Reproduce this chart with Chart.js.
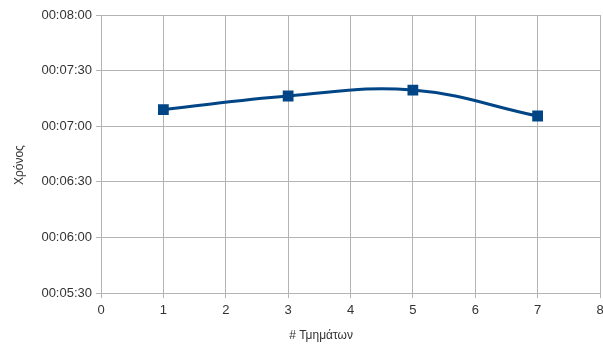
<!DOCTYPE html>
<html>
<head>
<meta charset="utf-8">
<script src="https://cdn.jsdelivr.net/npm/chart.js@4/dist/chart.umd.min.js"></script>
<style>
  html, body { margin: 0; padding: 0; background: #fff; }
  #wrap { width: 603px; height: 347px; }
</style>
</head>
<body>
<div id="wrap"><canvas id="c" width="603" height="347"></canvas></div>
<script>
/* Χρόνος vs # Τμημάτων — values in seconds */
const sections = [1, 3, 5, 7];
const seconds = [429, 436.3, 439.5, 425.5];
const yTicks = [330, 360, 390, 420, 450, 480];
const xTicks = [0, 1, 2, 3, 4, 5, 6, 7, 8];
const xTitle = "# Τμημάτων";
const yTitle = "Χρόνος";

const fmt = (s) => {
  const m = Math.floor(s / 60), r = Math.round(s % 60);
  return "00:" + String(m).padStart(2, "0") + ":" + String(r).padStart(2, "0");
};

Chart.defaults.font.family = "'Liberation Sans', Arial, sans-serif";
Chart.defaults.font.size = 13;
Chart.defaults.color = "#333";

// axis titles sit off-centre in the original (LibreOffice-style), so draw them by hand
const axisTitles = {
  id: "axisTitles",
  afterDraw(chart) {
    const { ctx, chartArea: a } = chart;
    ctx.save();
    ctx.fillStyle = "#333";
    ctx.font = "12px 'Liberation Sans', Arial, sans-serif";
    ctx.textAlign = "center";
    ctx.textBaseline = "middle";
    ctx.fillText(xTitle, a.left + (a.right - a.left) * 0.441, a.bottom + 43);
    ctx.translate(20, a.top + (a.bottom - a.top) * 0.54);
    ctx.rotate(-Math.PI / 2);
    ctx.fillText(yTitle, 0, 0);
    ctx.restore();
  },
};

new Chart(document.getElementById("c"), {
  type: "line",
  data: {
    datasets: [{
      data: sections.map((x, i) => ({ x, y: seconds[i] })),
      borderColor: "#004586", backgroundColor: "#004586",
      borderWidth: 3, tension: 0.4,
      pointStyle: "rect", pointRadius: 5.5, pointHoverRadius: 5.5,
    }],
  },
  options: {
    responsive: false, animation: false,
    layout: { autoPadding: false, padding: { top: 15, right: 3, left: 0, bottom: 0 } },
    plugins: { legend: { display: false }, tooltip: { enabled: false } },
    scales: {
      x: {
        type: "linear", min: 0, max: 8,
        afterBuildTicks: (s) => { s.ticks = xTicks.map((v) => ({ value: v })); },
        afterFit: (s) => { s.height = 54; s.paddingRight = 0; s.paddingLeft = 0; },
        grid: { color: "#b3b3b3", tickLength: 5 },
        border: { color: "#b3b3b3" },
        ticks: { padding: 5 },
      },
      y: {
        min: 330, max: 480,
        afterBuildTicks: (s) => { s.ticks = yTicks.map((v) => ({ value: v })); },
        afterFit: (s) => { s.width = 101; s.paddingTop = 0; s.paddingBottom = 0; },
        grid: { color: "#b3b3b3", tickLength: 5 },
        border: { color: "#b3b3b3" },
        ticks: { callback: (v) => fmt(v), padding: 4 },
      },
    },
  },
  plugins: [axisTitles],
});
</script>
</body>
</html>
